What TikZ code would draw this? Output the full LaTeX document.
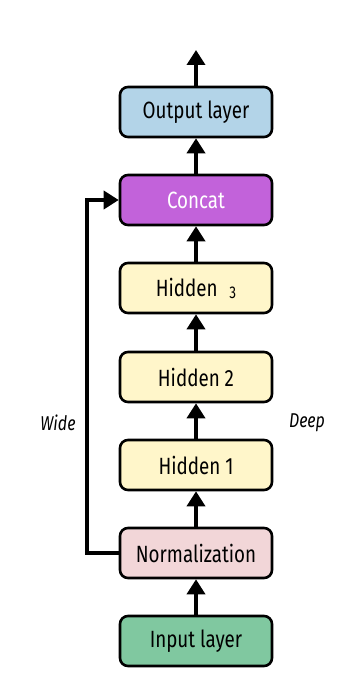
\documentclass[tikz,border=0pt]{standalone}
\usepackage{fontspec}
\setmainfont{Fira Sans}[FakeStretch=0.8]
\usetikzlibrary{arrows.meta}
\definecolor{outblue}{RGB}{179,212,232}
\definecolor{concatpurple}{RGB}{194,98,218}
\definecolor{hiddenyellow}{RGB}{255,246,202}
\definecolor{normpink}{RGB}{242,214,216}
\definecolor{inputgreen}{RGB}{128,200,160}
\begin{document}
\begin{tikzpicture}[x=1pt,y=-1pt,
  layer/.style={draw=black, line width=2.6pt, rounded corners=8pt,
    minimum width=152pt, minimum height=50pt, inner sep=0pt,
    font=\fontsize{23.5}{26}\selectfont},
  flow/.style={line width=3.6pt, -{Triangle[width=18pt,length=15pt]}},
  side/.style={font=\itshape\fontsize{20}{22}\selectfont}]
  \useasboundingbox (0,0) rectangle (352,676);

  % layer stack, bottom to top
  \node[layer, fill=inputgreen]   (input)  at (196,641) {Input layer};
  \node[layer, fill=normpink]     (norm)   at (196,553) {Normalization};
  \node[layer, fill=hiddenyellow] (h1)     at (196,465) {Hidden 1};
  \node[layer, fill=hiddenyellow] (h2)     at (196,377) {Hidden 2};
  \node[layer, fill=hiddenyellow] (h3)     at (196,288) {Hidden\hspace{0.5em}{\fontsize{17}{20}\selectfont\raisebox{-2pt}{3}}};
  \node[layer, fill=concatpurple, text=white] (concat) at (196,200) {Concat};
  \node[layer, fill=outblue]      (output) at (196,112) {Output layer};
  \coordinate (top) at (196,50);

  % deep path
  \draw[flow] (input) -- (norm);
  \draw[flow] (norm) -- (h1);
  \draw[flow] (h1) -- (h2);
  \draw[flow] (h2) -- (h3);
  \draw[flow] (h3) -- (concat);
  \draw[flow] (concat) -- (output);
  \draw[flow] (output) -- (top);

  % wide path
  \coordinate (wl) at (87,553);
  \coordinate (wu) at (87,200);
  \draw[flow, line join=miter] (norm.west) -- (wl) -- (wu) -- (concat.west);

  \node[side] (wide) at (58,423) {Wide};
  \node[side] (deep) at (307,423) {Deep};
\end{tikzpicture}
\end{document}
